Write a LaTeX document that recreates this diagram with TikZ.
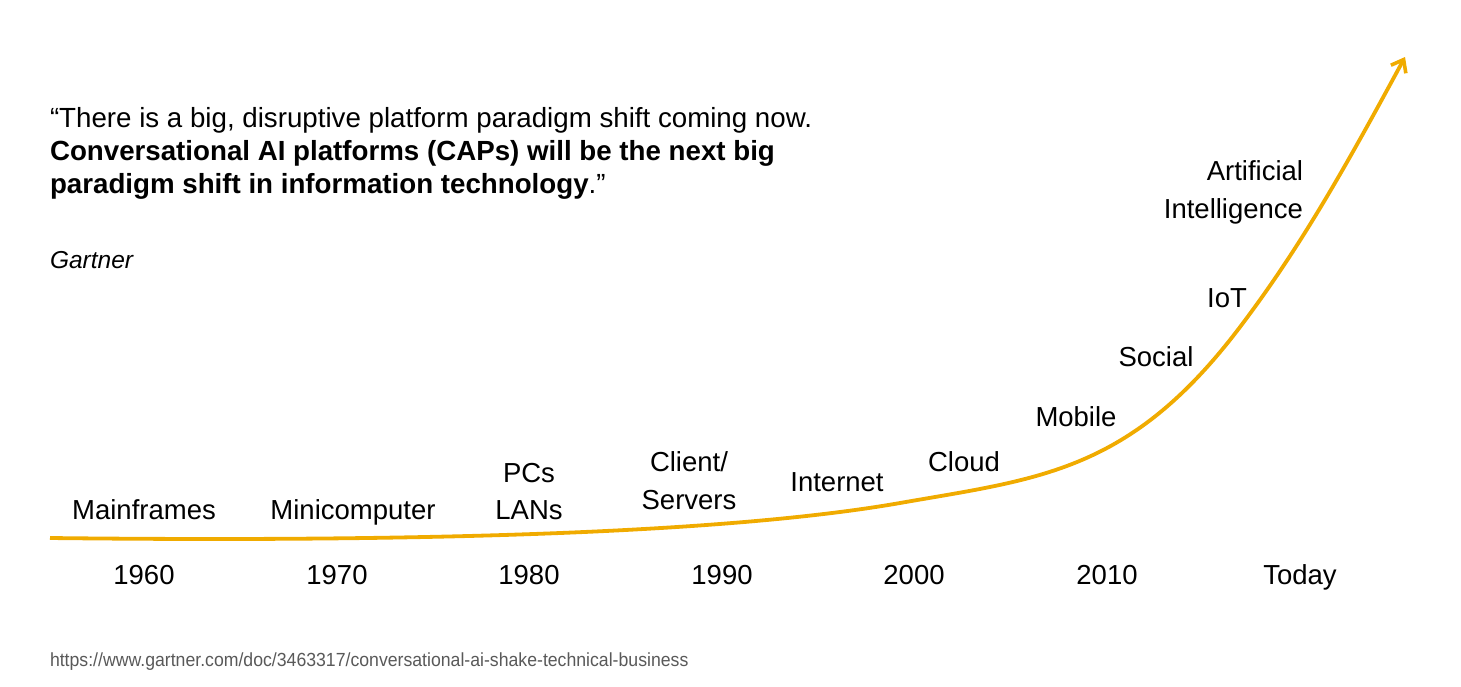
\documentclass[tikz,border=0pt]{standalone}
\usepackage{fontspec}
\setmainfont{Liberation Sans}
\usetikzlibrary{arrows.meta}
\definecolor{curvegold}{RGB}{240,171,0}
\definecolor{urlgrey}{RGB}{89,89,89}
\begin{document}
\begin{tikzpicture}[x=1pt,y=-1pt,
  every node/.style={inner sep=0pt,outer sep=0pt},
  era/.style={font=\fontsize{27.5}{38}\selectfont,anchor=base},
  yearlbl/.style={font=\fontsize{27.5}{33}\selectfont,anchor=base},
  quote/.style={font=\fontsize{27.7}{33}\selectfont,anchor=base west}]
\useasboundingbox (0,0) rectangle (1461,686);

% quotation and source
\node[quote] (q1) at (50,127) {“There is a big, disruptive platform paradigm shift coming now.};
\node[quote] (q2) at (50,160) {\bfseries Conversational AI platforms (CAPs) will be the next big};
\node[quote] (q3) at (50,193) {{\bfseries paradigm shift in information technology}.”};
\node[anchor=base west,font=\fontsize{24.5}{30}\selectfont\itshape] (src) at (50,268) {Gartner};

% growth curve
\coordinate (start) at (50,538);
\coordinate (k1) at (900,503);
\coordinate (k2) at (1240,327);
\coordinate (tip) at (1405,57);
\draw[curvegold,line width=3.8pt,-{Straight Barb[length=11pt,width=17pt,line width=3.6pt]}]
  (start) .. controls (400,542) and (720,534.5) .. (k1)
          .. controls (1040,478.5) and (1130,472.2) .. (k2)
          .. controls (1300,247.8) and (1345,168) .. (tip);

% technology eras
\node[era] (main) at (144,519) {Mainframes};
\node[era] (mini) at (353,519) {Minicomputer};
\node[era] (pcs) at (529,482) {PCs};
\node[era] (lans) at (529,519) {LANs};
\node[era] (client) at (689,471) {Client/};
\node[era] (servers) at (689,509) {Servers};
\node[era] (inet) at (837,491) {Internet};
\node[era] (cloud) at (964,471) {Cloud};
\node[era] (mob) at (1076,426) {Mobile};
\node[era] (soc) at (1156,366) {Social};
\node[era] (iot) at (1227,307) {IoT};
\node[era,anchor=base east] (art) at (1303,180) {Artificial};
\node[era,anchor=base east] (intel) at (1303,218) {Intelligence};

% decades
\node[yearlbl] (y60) at (144,584) {1960};
\node[yearlbl] (y70) at (337,584) {1970};
\node[yearlbl] (y80) at (529,584) {1980};
\node[yearlbl] (y90) at (722,584) {1990};
\node[yearlbl] (y00) at (914,584) {2000};
\node[yearlbl] (y10) at (1107,584) {2010};
\node[yearlbl] (ytd) at (1300,584) {Today};

% reference link
\node[anchor=base west,text=urlgrey,font=\fontsize{19}{22}\selectfont,xscale=0.93,transform shape] (url) at (50,666)
  {https://www.gartner.com/doc/3463317/conversational-ai-shake-technical-business};
\end{tikzpicture}
\end{document}
